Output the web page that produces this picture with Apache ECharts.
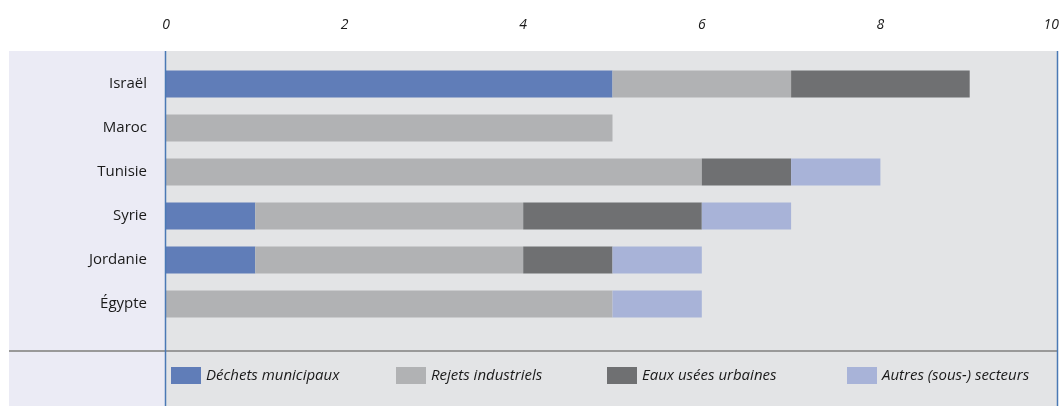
<!DOCTYPE html>
<html>
<head>
<meta charset="utf-8">
<script src="https://cdn.jsdelivr.net/npm/echarts@6/dist/echarts.min.js"></script>
<style>
  html, body { margin: 0; padding: 0; background: #fff; }
  #chart { width: 1063px; height: 406px; }
</style>
</head>
<body>
<div id="chart"></div>
<script>
// Countries, top to bottom
var countries = ['Israël', 'Maroc', 'Tunisie', 'Syrie', 'Jordanie', 'Égypte'];
var seriesNames = ['Déchets municipaux', 'Rejets industriels', 'Eaux usées urbaines', 'Autres (sous-) secteurs'];
var dechets = [5, 0, 0, 1, 1, 0];
var rejets = [2, 5, 6, 3, 3, 5];
var eaux = [2, 0, 1, 2, 1, 0];
var autres = [0, 0, 1, 1, 1, 1];
var colors = ['#607db8', '#b1b2b4', '#6f7072', '#a8b3d8'];
var legendLeft = [171, 396, 607, 847];

var chart = echarts.init(document.getElementById('chart'), null, { renderer: 'canvas' });

var values = [dechets, rejets, eaux, autres];
var series = seriesNames.map(function (name, i) {
  return {
    name: name,
    type: 'bar',
    stack: 'total',
    barWidth: 27,
    data: values[i],
    itemStyle: { color: colors[i] },
    emphasis: { disabled: true }
  };
});

// one legend per item so each sits where it does in the original
var legends = seriesNames.map(function (name, i) {
  return {
    data: [name],
    left: legendLeft[i],
    top: 367,
    padding: 0,
    itemWidth: 30,
    itemHeight: 17,
    itemGap: 6,
    icon: 'rect',
    selectedMode: false,
    textStyle: {
      fontFamily: 'Open Sans',
      fontStyle: 'italic',
      fontSize: 15,
      color: '#1a1a1a'
    }
  };
});

var option = {
  animation: false,
  backgroundColor: '#fff',
  color: colors,
  grid: { left: 166, right: 4, top: 62, bottom: 80, outerBoundsMode: 'none' },
  legend: legends,
  graphic: [
    { type: 'rect', z: -10, shape: { x: 9, y: 51, width: 157, height: 355 }, style: { fill: '#ebebf5' } },
    { type: 'rect', z: -10, shape: { x: 166, y: 51, width: 891, height: 355 }, style: { fill: '#e3e4e6' } },
    { type: 'line', z: 100, shape: { x1: 9, y1: 351, x2: 1058, y2: 351 }, style: { stroke: '#999', lineWidth: 2 } },
    { type: 'line', z: 100, shape: { x1: 165.5, y1: 51, x2: 165.5, y2: 406 }, style: { stroke: '#4a79b5', lineWidth: 1.5 } },
    { type: 'line', z: 100, shape: { x1: 1057.5, y1: 51, x2: 1057.5, y2: 406 }, style: { stroke: '#4a79b5', lineWidth: 1.5 } }
  ],
  xAxis: {
    type: 'value',
    position: 'top',
    min: 0,
    max: 10,
    interval: 2,
    axisLine: { show: false },
    axisTick: { show: false },
    splitLine: { show: false },
    axisLabel: {
      margin: 30,
      fontFamily: 'Open Sans',
      fontStyle: 'italic',
      fontSize: 14,
      color: '#1a1a1a',
      showMaxLabel: true,
      alignMaxLabel: 'right'
    }
  },
  yAxis: {
    type: 'category',
    inverse: true,
    data: countries,
    axisLine: { show: false },
    axisTick: { show: false },
    axisLabel: {
      margin: 19,
      fontFamily: 'Open Sans',
      fontSize: 15,
      color: '#1a1a1a'
    }
  },
  series: series
};

chart.setOption(option);
</script>
</body>
</html>
